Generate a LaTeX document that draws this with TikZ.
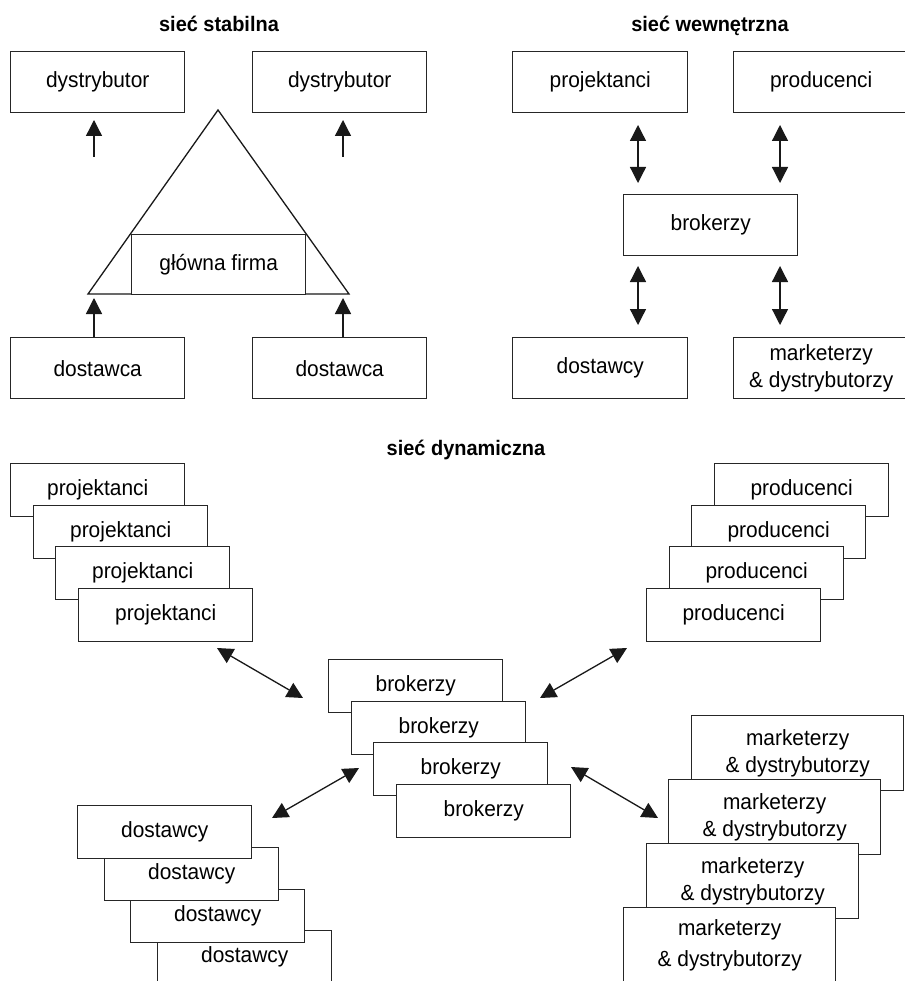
\documentclass[tikz,border=0pt]{standalone}
\usepackage{fontspec}
\setmainfont[FakeStretch=0.95]{Liberation Sans}
\usetikzlibrary{arrows.meta}

\begin{document}
\begin{tikzpicture}[x=1pt,y=-1pt,
  box/.style={draw=black!85, line width=1.4pt, fill=white, inner sep=0pt,
    anchor=north west, minimum width=174pt, minimum height=61pt,
    font=\fontsize{22}{27}\selectfont, align=center},
  wbox/.style={box, minimum width=175pt},
  sbox/.style={box, minimum height=53pt},
  mbox/.style={box, minimum width=212pt, minimum height=75pt},
  title/.style={font=\fontsize{21}{24}\selectfont\bfseries, anchor=base},
  arr/.style={line width=1.3pt, black!90, -{Triangle[length=16pt,width=16pt]}},
  darr/.style={line width=1.3pt, black!90, {Triangle[length=16pt,width=16pt]}-{Triangle[length=16pt,width=16pt]}}]

\useasboundingbox[fill=white] (0,0) rectangle (904,981);

% ---------------- stable network ----------------
\node[title] (t1) at (219,32) {sieć stabilna};
\node[box] (dys1) at (10,51) {dystrybutor};
\node[box] (dys2) at (252,51) {dystrybutor};

\coordinate (apex) at (218,110);
\coordinate (bl) at (88,294);
\coordinate (br) at (349,294);
\draw[line width=1.3pt, black!90] (apex) -- (bl) -- (br) -- cycle;
\node[box, minimum height=60pt] (main) at (131,234) {główna firma};

\node[box] (dst1) at (10,337) {dostawca};
\node[box] (dst2) at (252,337) {dostawca};

\coordinate (ua1) at (94,157);  \coordinate (ub1) at (94,120);
\coordinate (ua2) at (343,157); \coordinate (ub2) at (343,120);
\coordinate (la1) at (94,337);  \coordinate (lb1) at (94,298);
\coordinate (la2) at (343,337); \coordinate (lb2) at (343,298);
\draw[arr] (ua1) -- (ub1);
\draw[arr] (ua2) -- (ub2);
\draw[arr] (la1) -- (lb1);
\draw[arr] (la2) -- (lb2);

% ---------------- internal network ----------------
\node[title] (t2) at (710,32) {sieć wewnętrzna};
\node[wbox] (wp) at (512,51) {projektanci};
\node[wbox] (wpr) at (733,51) {producenci};
\node[box] (wb) at (623,194) {brokerzy};
\node[wbox] (wd) at (512,337) {dostawcy};
\node[wbox] (wm) at (733,337) {marketerzy\\\& dystrybutorzy};

\coordinate (w1a) at (638,125); \coordinate (w1b) at (638,183);
\coordinate (w2a) at (780,125); \coordinate (w2b) at (780,183);
\coordinate (w3a) at (638,266); \coordinate (w3b) at (638,325);
\coordinate (w4a) at (780,266); \coordinate (w4b) at (780,325);
\draw[darr] (w1a) -- (w1b);
\draw[darr] (w2a) -- (w2b);
\draw[darr] (w3a) -- (w3b);
\draw[darr] (w4a) -- (w4b);

% ---------------- dynamic network ----------------
\node[title] (t3) at (466,455) {sieć dynamiczna};

% designers (lower cards in front)
\node[sbox] (pj1) at (10,463) {projektanci};
\node[sbox] (pj2) at (33,505) {projektanci};
\node[sbox] (pj3) at (55,546) {projektanci};
\node[sbox] (pj4) at (78,588) {projektanci};

% producers
\node[sbox] (pr1) at (714,463) {producenci};
\node[sbox] (pr2) at (691,505) {producenci};
\node[sbox] (pr3) at (669,546) {producenci};
\node[sbox] (pr4) at (646,588) {producenci};

% brokers
\node[sbox] (br1) at (328,659) {brokerzy};
\node[sbox] (br2) at (351,701) {brokerzy};
\node[sbox] (br3) at (373,742) {brokerzy};
\node[sbox] (br4) at (396,784) {brokerzy};

% suppliers (upper cards in front, so drawn last)
\node[sbox] (ds4) at (157,930) {dostawcy};
\node[sbox] (ds3) at (130,889) {dostawcy};
\node[sbox] (ds2) at (104,847) {dostawcy};
\node[sbox] (ds1) at (77,805) {dostawcy};

% marketers
\node[mbox] (mk1) at (691,715) {marketerzy\\\& dystrybutorzy};
\node[mbox] (mk2) at (668,779) {marketerzy\\\& dystrybutorzy};
\node[mbox] (mk3) at (646,843) {marketerzy\\\& dystrybutorzy};
\node[mbox] (mk4) at (623,907) {marketerzy\\[4pt]\& dystrybutorzy};

\coordinate (d1a) at (217,648); \coordinate (d1b) at (303,698);
\coordinate (d2a) at (627,648); \coordinate (d2b) at (540,698);
\coordinate (d3a) at (359,768); \coordinate (d3b) at (272,818);
\coordinate (d4a) at (571,767); \coordinate (d4b) at (658,818);
\draw[darr] (d1a) -- (d1b);
\draw[darr] (d2a) -- (d2b);
\draw[darr] (d3a) -- (d3b);
\draw[darr] (d4a) -- (d4b);

\end{tikzpicture}
\end{document}
